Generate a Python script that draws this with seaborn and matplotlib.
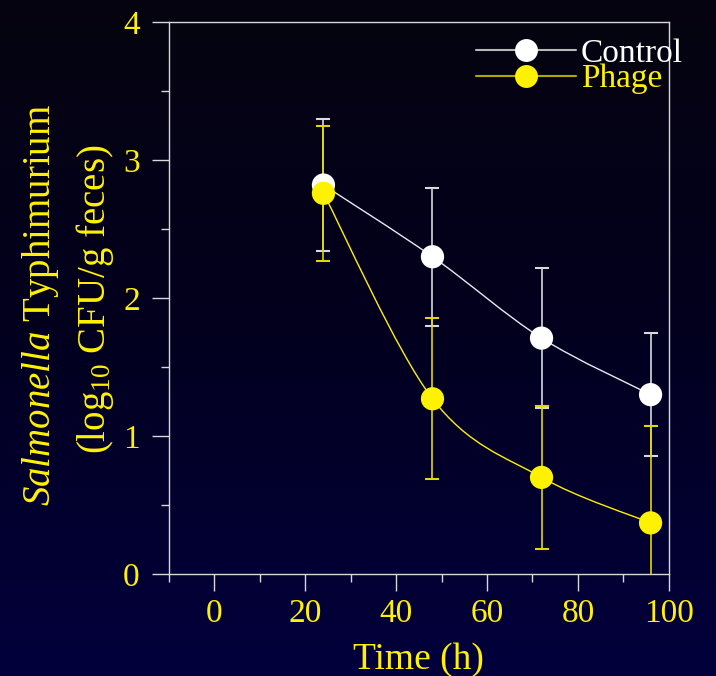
import numpy as np
import matplotlib
matplotlib.use("Agg")
import matplotlib.pyplot as plt
from matplotlib.path import Path
from matplotlib.patches import PathPatch
from matplotlib.lines import Line2D
from matplotlib.colors import LinearSegmentedColormap
import seaborn as sns
import pandas as pd

# data
hours = [24, 48, 72, 96]
control = [2.82, 2.30, 1.71, 1.30]
control_err = [0.48, 0.50, 0.51, 0.445]
phage = [2.76, 1.27, 0.70, 0.37]
phage_err = [0.49, 0.585, 0.52, 0.70]

x_ticks = [0, 20, 40, 60, 80, 100]
y_ticks = [0, 1, 2, 3, 4]

YELLOW = "#fff200"
WHITE = "#ffffff"

sns.set_theme(style="ticks")
plt.rcParams["font.family"] = ["Liberation Serif", "DejaVu Serif"]
plt.rcParams["mathtext.fontset"] = "custom"
plt.rcParams["mathtext.rm"] = "Liberation Serif"
plt.rcParams["mathtext.it"] = "Liberation Serif:italic"


def smooth_path(x, y):
    # catmull-rom through the measured points, drawn as bezier segments
    pts = np.column_stack([x, y]).astype(float)
    n = len(pts)
    verts = [pts[0]]
    codes = [Path.MOVETO]
    for i in range(n - 1):
        p0 = pts[max(i - 1, 0)]
        p1 = pts[i]
        p2 = pts[i + 1]
        p3 = pts[min(i + 2, n - 1)]
        verts += [p1 + (p2 - p0) / 6, p2 - (p3 - p1) / 6, p2]
        codes += [Path.CURVE4] * 3
    return Path(verts, codes)


fig = plt.figure(figsize=(7.16, 6.76), dpi=100)

# gradient background
bg = fig.add_axes([0, 0, 1, 1], zorder=-10)
cmap = LinearSegmentedColormap.from_list("bg", ["#05040f", "#03001f", "#02003c"])
bg.imshow(np.linspace(0, 1, 256).reshape(-1, 1), aspect="auto", cmap=cmap,
          extent=[0, 1, 0, 1], origin="upper")
bg.set_axis_off()

ax = fig.add_axes([0.236, 0.151, 0.698, 0.816])
ax.set_facecolor("none")

df = pd.DataFrame({"hours": hours * 2,
                   "value": control + phage,
                   "group": ["Control"] * 4 + ["Phage"] * 4})

# curves
ax.add_patch(PathPatch(smooth_path(hours, control), fill=False,
                       edgecolor="#e8e8f0", lw=1.0, zorder=2))
ax.add_patch(PathPatch(smooth_path(hours, phage), fill=False,
                       edgecolor=YELLOW, lw=1.0, zorder=2))

# error bars
ax.errorbar(hours, control, yerr=control_err, fmt="none", ecolor="#d8d8e0",
            elinewidth=1.2, capsize=4.7, capthick=1.5, zorder=3)
ax.errorbar(hours, phage, yerr=phage_err, fmt="none", ecolor="#e0d800",
            elinewidth=1.2, capsize=4.7, capthick=1.5, zorder=3)

# markers
sns.scatterplot(data=df, x="hours", y="value", hue="group",
                palette={"Control": WHITE, "Phage": YELLOW},
                s=280, linewidth=0, legend=False, zorder=4, ax=ax)

ax.set_xlim(-10, 100)
ax.set_ylim(0, 4)
ax.set_xticks(x_ticks)
ax.set_yticks(y_ticks)
ax.set_xticks(np.arange(-10, 101, 20), minor=True)
ax.set_yticks(np.arange(0.5, 4, 1), minor=True)
ax.tick_params(which="major", direction="out", length=12, width=1,
               color="#d8d8d8", labelcolor=YELLOW, labelsize=24)
ax.tick_params(axis="x", which="major", pad=6)
ax.tick_params(axis="y", which="major", pad=9)
ax.tick_params(which="minor", direction="out", length=6, width=1,
               color="#d8d8d8")
for s in ax.spines.values():
    s.set_color("#d8d8d8")
    s.set_linewidth(1)
ax.set_xlabel("Time (h)", color=YELLOW, fontsize=27, labelpad=9)
ax.set_ylabel("")

fig.text(0.057, 0.549, r"$\it{Salmonella}$ Typhimurium", rotation=90,
         ha="center", va="center", color=YELLOW, fontsize=28)
fig.text(0.132, 0.558, r"(log$_{10}$ CFU/g feces)", rotation=90,
         ha="center", va="center", color=YELLOW, fontsize=28)

handles = [
    Line2D([], [], color="#b8b8b8", lw=1.5, marker="o", markersize=16.5,
           markerfacecolor=WHITE, markeredgewidth=0),
    Line2D([], [], color="#b0a800", lw=1.5, marker="o", markersize=16.5,
           markerfacecolor=YELLOW, markeredgewidth=0),
]
leg = ax.legend(handles, ["Control", "Phage"], loc="upper right",
                bbox_to_anchor=(1.055, 0.995), frameon=False, fontsize=24,
                handlelength=3.0, handletextpad=0.15, labelspacing=-0.15,
                borderaxespad=0)
leg.get_texts()[0].set_color(WHITE)
leg.get_texts()[1].set_color(YELLOW)

fig.savefig("out.png", dpi=100)
